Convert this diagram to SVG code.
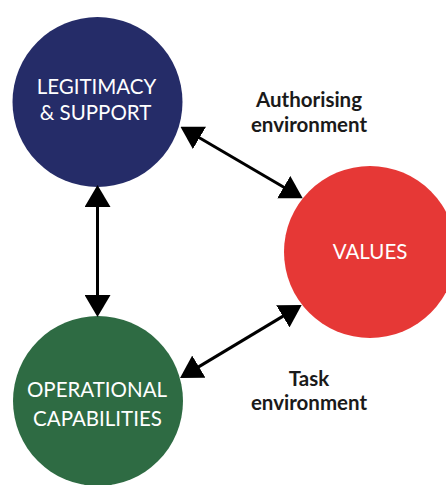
<svg xmlns="http://www.w3.org/2000/svg" width="446" height="485" viewBox="0 0 446 485">
  <style>
    .node-label { font-family: Lato, "Open Sans", "Liberation Sans", sans-serif; font-size: 20.5px; fill: #ffffff; text-anchor: middle; }
    .edge-label { font-family: Lato, "Open Sans", "Liberation Sans", sans-serif; font-size: 20.5px; font-weight: bold; fill: #1a1a1a; text-anchor: middle; }
    .conn { stroke: #000000; stroke-width: 3; fill: none; marker-start: url(#head); marker-end: url(#head); }
  </style>
  <defs>
    <marker id="head" viewBox="0 0 22 26" markerUnits="userSpaceOnUse" markerWidth="22" markerHeight="26" refX="12" refY="13" orient="auto-start-reverse">
      <path d="M0,0 L22,13 L0,26 Z" fill="#000000"/>
    </marker>
  </defs>
  <rect width="446" height="485" fill="#ffffff"/>

  <g id="legitimacy">
    <circle cx="97.5" cy="102" r="85" fill="#252c68"/>
    <text class="node-label" x="96.5" y="94">LEGITIMACY</text>
    <text class="node-label" x="95.5" y="120">&amp; SUPPORT</text>
  </g>

  <g id="values">
    <circle cx="370" cy="252" r="86" fill="#e63836"/>
    <text class="node-label" x="370" y="259">VALUES</text>
  </g>

  <g id="operational">
    <circle cx="98" cy="401" r="85" fill="#2e6b43"/>
    <text class="node-label" x="97" y="397">OPERATIONAL</text>
    <text class="node-label" x="97.5" y="426">CAPABILITIES</text>
  </g>

  <g id="connectors">
    <line class="conn" x1="97.5" y1="195" x2="97.5" y2="307"/>
    <line class="conn" x1="189.1" y1="131.8" x2="294.1" y2="193.2"/>
    <line class="conn" x1="188.6" y1="372.9" x2="293.1" y2="310.1"/>
  </g>

  <g id="labels">
    <text class="edge-label" x="309" y="107">Authorising</text>
    <text class="edge-label" x="309" y="132">environment</text>
    <text class="edge-label" x="309" y="386">Task</text>
    <text class="edge-label" x="309" y="410">environment</text>
  </g>
</svg>
